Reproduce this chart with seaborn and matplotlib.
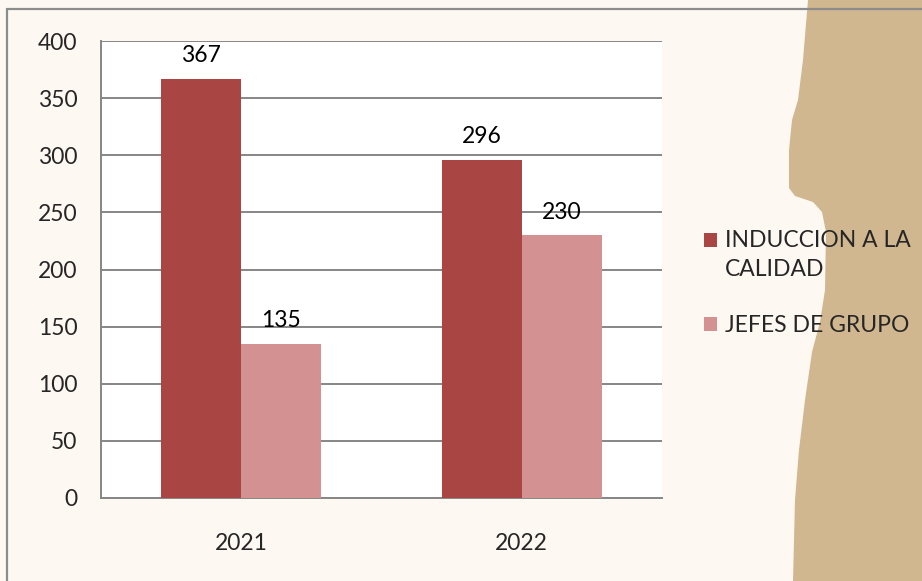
import matplotlib
matplotlib.use("Agg")
import matplotlib.pyplot as plt
import seaborn as sns
import pandas as pd
from matplotlib.patches import Polygon
from matplotlib.lines import Line2D

# ---- data ----
years = ["2021", "2022"]
series = ["INDUCCION A LA CALIDAD", "JEFES DE GRUPO"]
induccion = [367, 296]
jefes = [135, 230]
legend_labels = ["INDUCCION A LA\nCALIDAD", "JEFES DE GRUPO"]
yticks = [0, 50, 100, 150, 200, 250, 300, 350, 400]

colors = ["#A94543", "#D39192"]
bg = "#FDF8F2"
tan = "#D0B78F"
grey = "#868686"
FS = 16.5

df = pd.DataFrame({
    "year": years * 2,
    "serie": [series[0]] * len(years) + [series[1]] * len(years),
    "value": induccion + jefes,
})

sns.set_theme(style="white")
plt.rcParams["font.family"] = ["Lato", "DejaVu Sans"]

W, H = 922, 581
fig = plt.figure(figsize=(W / 100, H / 100), dpi=100)
fig.patch.set_facecolor(bg)

# decorative tan shape on the right
pts = [(808, 0), (803, 60), (798, 100), (792, 120), (789, 150), (789, 188),
       (795, 196), (813, 202), (822, 212), (826, 232), (825, 290), (820, 322),
       (812, 352), (805, 400), (799, 450), (795, 500), (793, 581),
       (922, 581), (922, 0)]
fig.patches.append(Polygon([(x / W, 1 - y / H) for x, y in pts], closed=True,
                           transform=fig.transFigure, facecolor=tan,
                           edgecolor="none", zorder=0))
# chart border
fig.lines.append(Line2D([7 / W, 7 / W], [1 - 9 / H, 0], transform=fig.transFigure,
                        color="#8C8C8C", lw=1.6, zorder=1))
fig.lines.append(Line2D([7 / W, 1], [1 - 9 / H, 1 - 9 / H], transform=fig.transFigure,
                        color="#8C8C8C", lw=1.6, zorder=1))

ax = fig.add_axes([101 / W, 1 - 498 / H, (662 - 101) / W, (498 - 41) / H])
ax.set_facecolor("white")

sns.barplot(data=df, x="year", y="value", hue="serie", hue_order=series,
            order=years, palette=colors, width=0.57, saturation=1,
            ax=ax, zorder=3, linewidth=0)

for c in ax.containers:
    ax.bar_label(c, padding=9, fontsize=FS, color="black")

ax.set_ylim(0, 400)
ax.set_yticks(yticks)
ax.set_yticklabels([str(v) for v in yticks], fontsize=FS)
ax.set_xlim(-0.5, len(years) - 0.5)
ax.set_xticks([i - 0.5 for i in range(len(years) + 1)])
ax.set_xticklabels([""] * (len(years) + 1))
ax.set_xticks(range(len(years)), minor=True)
ax.set_xticklabels(years, minor=True, fontsize=FS)
ax.tick_params(axis="x", which="minor", length=0, pad=25)
ax.tick_params(axis="x", which="major", length=8, width=1.3, color=grey, direction="out")
ax.tick_params(axis="y", length=8, width=1.3, color=grey, direction="out", pad=9)
ax.set_xlabel("")
ax.set_ylabel("")

ax.grid(axis="y", color=grey, lw=1.4, zorder=0)
ax.set_axisbelow(True)
for s in ["top", "right"]:
    ax.spines[s].set_visible(False)
for s in ["left", "bottom"]:
    ax.spines[s].set_color(grey)
    ax.spines[s].set_linewidth(1.4)

handles, _ = ax.get_legend_handles_labels()
ax.get_legend().remove()
leg = fig.legend(handles, legend_labels, loc="upper left",
                 bbox_to_anchor=(704 / W, 1 - 230 / H), frameon=False,
                 fontsize=FS, handlelength=0.55, handleheight=0.55,
                 handletextpad=0.35, labelspacing=1.5, borderaxespad=0, borderpad=0)
for t in leg.get_texts():
    t.set_linespacing(1.5)
# align the first handle with the first line of its two-line label
h0 = leg.legend_handles[0]
h0.set_y(h0.get_y() + 11.5)

fig.savefig("out.png", dpi=100, facecolor=bg)
